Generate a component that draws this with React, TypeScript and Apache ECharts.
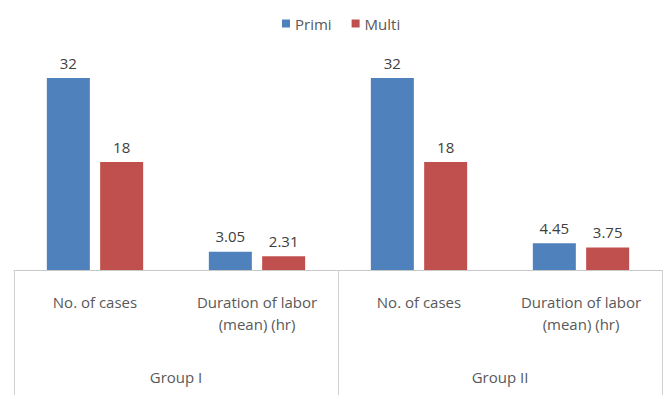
import React, { useEffect, useRef } from "react";
import * as echarts from "echarts";

const categories = ["No. of cases", "Duration of labor\n(mean) (hr)", "No. of cases", "Duration of labor\n(mean) (hr)"];
const groups = ["Group I", "Group II"];
const primi = [32, 3.05, 32, 4.45];
const multi = [18, 2.31, 18, 3.75];
const seriesNames = ["Primi", "Multi"];

const FONT = "'Open Sans', 'DejaVu Sans', sans-serif";

export default function App() {
  const ref = useRef<HTMLDivElement>(null);
  useEffect(() => {
    if (!ref.current) return;
    const chart = echarts.init(ref.current, undefined, { renderer: "svg" });
    const labelStyle = {
      show: true,
      position: "top" as const,
      distance: 8,
      color: "#404040",
      fontSize: 15,
      fontFamily: FONT,
      formatter: (p: any) => String(p.value),
    };
    chart.setOption({
      animation: false,
      backgroundColor: "#ffffff",
      legend: {
        data: seriesNames,
        left: 277,
        top: 11,
        icon: "rect",
        itemWidth: 8,
        itemHeight: 8,
        itemGap: 20,
        textStyle: { color: "#595959", fontSize: 15, fontFamily: FONT },
      },
      grid: { left: 14, right: 7, top: 78, bottom: 131, containLabel: false },
      xAxis: [
        {
          type: "category",
          data: categories,
          position: "bottom",
          axisLine: { show: true, lineStyle: { color: "#c8c8c8", width: 1 } },
          axisTick: { show: false },
          axisLabel: {
            color: "#595959",
            fontSize: 15,
            fontFamily: FONT,
            lineHeight: 22,
            margin: 21,
            interval: 0,
          },
        },
        {
          type: "category",
          data: groups,
          position: "bottom",
          axisLine: { show: false },
          axisTick: { show: true, length: 125, inside: false, lineStyle: { color: "#d0d0d0", width: 1 } },
          axisLabel: {
            color: "#595959",
            fontSize: 15,
            fontFamily: FONT,
            lineHeight: 20,
            margin: 97,
            interval: 0,
          },
        },
      ],
      yAxis: { type: "value", min: 0, max: 32, show: false, splitLine: { show: false } },
      series: [
        {
          name: seriesNames[0],
          type: "bar",
          xAxisIndex: 0,
          data: primi,
          barWidth: 43,
          barGap: "24%",
          itemStyle: { color: "#4F81BD" },
          label: labelStyle,
        },
        {
          name: seriesNames[1],
          type: "bar",
          xAxisIndex: 0,
          data: multi,
          barWidth: 43,
          barGap: "24%",
          itemStyle: { color: "#C0504D" },
          label: labelStyle,
        },
      ],
    });
    return () => chart.dispose();
  }, []);
  return (
    <div
      ref={ref}
      style={{ position: "fixed", left: 0, top: 0, width: 669, height: 401, background: "#fff" }}
    />
  );
}
